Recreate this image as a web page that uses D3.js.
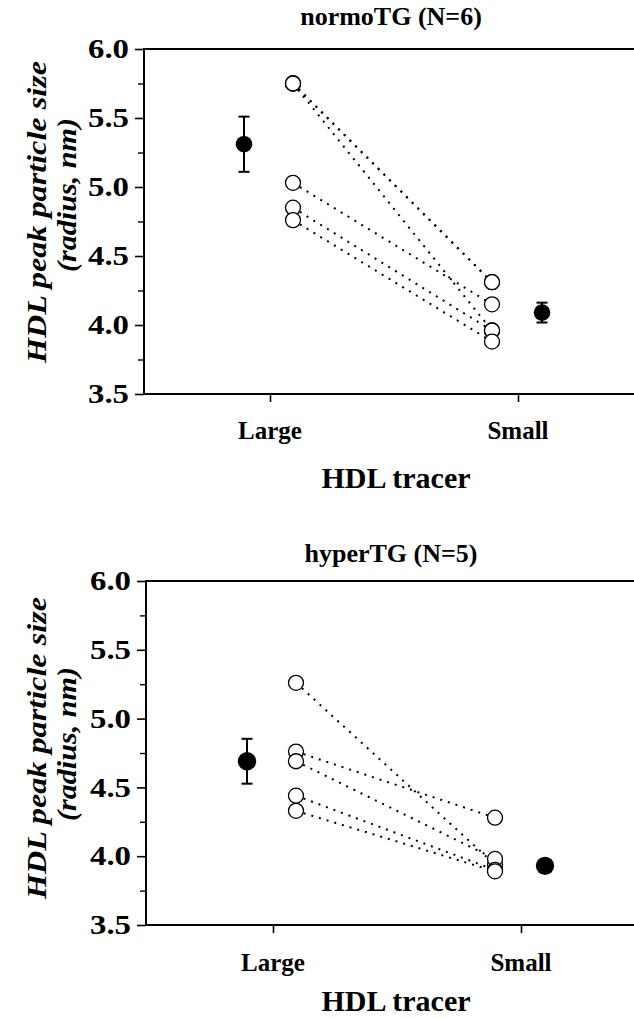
<!DOCTYPE html>
<html>
<head>
<meta charset="utf-8">
<script src="https://d3js.org/d3.v7.min.js"></script>
<style>
  body { margin: 0; background: #fff; }
  svg text { font-family: "Liberation Serif", "Times New Roman", serif; font-weight: bold; fill: #000; }
</style>
</head>
<body>
<div id="chart"></div>
<script>
// groups on the x axis and y ticks
const groups = ["Large", "Small"];
const yMajor = [3.5, 4.0, 4.5, 5.0, 5.5, 6.0];
const yMinor = [3.75, 4.25, 4.75, 5.25, 5.75];

// normoTG, paired subjects (Large -> Small)
const normoLarge = [5.75, 5.75, 5.75, 5.03, 4.85, 4.76];
const normoSmall = [4.31, 4.31, 3.96, 4.15, 3.96, 3.88];
const normoMean = [5.31, 4.09];
const normoSE = [0.20, 0.072];

// hyperTG
const hyperLarge = [5.26, 4.76, 4.69, 4.44, 4.33];
const hyperSmall = [3.94, 4.28, 3.98, 3.90, 3.89];
const hyperMean = [4.69, 3.93];
const hyperSE = [0.163, 0.02];

const W = 634, H = 1019;
const svg = d3.select("#chart").append("svg").attr("width", W).attr("height", H);

const panels = [
  { title: "normoTG (N=6)", large: normoLarge, small: normoSmall, mean: normoMean, se: normoSE,
    left: 144, top: 49, bottom: 394, xL: 270, xS: 518, meanR: 8.3,
    titleY: 25, lab1: 212, lab2: 195, tickLabY: 439, xTitleY: 488 },
  { title: "hyperTG (N=5)", large: hyperLarge, small: hyperSmall, mean: hyperMean, se: hyperSE,
    left: 146, top: 581, bottom: 925, xL: 273, xS: 521, meanR: 9.2,
    titleY: 562, lab1: 748, lab2: 744, tickLabY: 971, xTitleY: 1011 }
];

panels.forEach(p => drawPanel(p));

function drawPanel(p) {
  const g = svg.append("g");
  const y = d3.scaleLinear().domain([3.5, 6.0]).range([p.bottom, p.top]);
  const x = d3.scalePoint().domain(groups).range([p.xL, p.xS]);
  const indivX = k => x(k) + (k === "Large" ? 23 : -26);
  const meanX = k => x(k) + (k === "Large" ? -26 : 24);

  // frame: left, bottom, top
  g.append("path")
    .attr("d", `M${W},${p.top}H${p.left}V${p.bottom}H${W}`)
    .attr("fill", "none").attr("stroke", "#000").attr("stroke-width", 2);

  // y axis major + minor ticks
  const ya = g.append("g").attr("transform", `translate(${p.left},0)`)
    .call(d3.axisLeft(y).tickValues(yMajor).tickFormat(d3.format(".1f")).tickSize(9).tickPadding(6));
  ya.select(".domain").remove();
  ya.selectAll("line").attr("stroke-width", 1.6);
  ya.selectAll("text").style("font-size", "27px")
    .attr("textLength", 41).attr("lengthAdjust", "spacingAndGlyphs");

  const ym = g.append("g").attr("transform", `translate(${p.left},0)`)
    .call(d3.axisLeft(y).tickValues(yMinor).tickFormat("").tickSize(6));
  ym.select(".domain").remove();
  ym.selectAll("line").attr("stroke-width", 1.4);

  // x axis
  const xa = g.append("g").attr("transform", `translate(0,${p.bottom})`)
    .call(d3.axisBottom(x).tickSize(8).tickFormat(""));
  xa.select(".domain").remove();
  xa.selectAll("line").attr("stroke-width", 1.6);
  g.selectAll("text.xlab").data(groups).enter().append("text")
    .attr("class", "xlab")
    .attr("x", d => x(d)).attr("y", p.tickLabY)
    .attr("text-anchor", "middle").style("font-size", "25px")
    .text(d => d);

  // titles
  g.append("text").attr("x", 391).attr("y", p.titleY).attr("text-anchor", "middle")
    .style("font-size", "26px").text(p.title);
  g.append("text").attr("x", 396).attr("y", p.xTitleY).attr("text-anchor", "middle")
    .style("font-size", "30px").text("HDL tracer");

  g.append("text").attr("transform", `translate(46,${p.lab1}) rotate(-90)`)
    .attr("text-anchor", "middle").style("font-size", "27px").style("font-style", "italic")
    .attr("textLength", 302).attr("lengthAdjust", "spacingAndGlyphs")
    .text("HDL peak particle size");
  g.append("text").attr("transform", `translate(76,${p.lab2}) rotate(-90)`)
    .attr("text-anchor", "middle").style("font-size", "27px").style("font-style", "italic")
    .attr("textLength", 154).attr("lengthAdjust", "spacingAndGlyphs")
    .text("(radius, nm)");

  // paired dotted lines
  const pairs = p.large.map((v, i) => [v, p.small[i]]);
  g.selectAll("line.pair").data(pairs).enter().append("line")
    .attr("class", "pair")
    .attr("x1", indivX("Large")).attr("y1", d => y(d[0]))
    .attr("x2", indivX("Small")).attr("y2", d => y(d[1]))
    .attr("stroke", "#000").attr("stroke-width", 2)
    .attr("stroke-dasharray", "2,6");

  // individual open circles
  const pts = [];
  p.large.forEach(v => pts.push({ k: "Large", v }));
  p.small.forEach(v => pts.push({ k: "Small", v }));
  g.selectAll("circle.ind").data(pts).enter().append("circle")
    .attr("class", "ind")
    .attr("cx", d => indivX(d.k)).attr("cy", d => y(d.v)).attr("r", 7.5)
    .attr("fill", "#fff").attr("stroke", "#000").attr("stroke-width", 1.3);

  // means with SE bars
  const means = groups.map((k, i) => ({ k, m: p.mean[i], se: p.se[i] }));
  const mg = g.selectAll("g.mean").data(means).enter().append("g").attr("class", "mean");
  mg.append("line")
    .attr("x1", d => meanX(d.k)).attr("x2", d => meanX(d.k))
    .attr("y1", d => y(d.m + d.se)).attr("y2", d => y(d.m - d.se))
    .attr("stroke", "#000").attr("stroke-width", 2);
  [1, -1].forEach(s => {
    mg.append("line")
      .attr("x1", d => meanX(d.k) - 5.5).attr("x2", d => meanX(d.k) + 5.5)
      .attr("y1", d => y(d.m + s * d.se)).attr("y2", d => y(d.m + s * d.se))
      .attr("stroke", "#000").attr("stroke-width", 2);
  });
  mg.append("circle")
    .attr("cx", d => meanX(d.k)).attr("cy", d => y(d.m)).attr("r", p.meanR)
    .attr("fill", "#000");
}
</script>
</body>
</html>
